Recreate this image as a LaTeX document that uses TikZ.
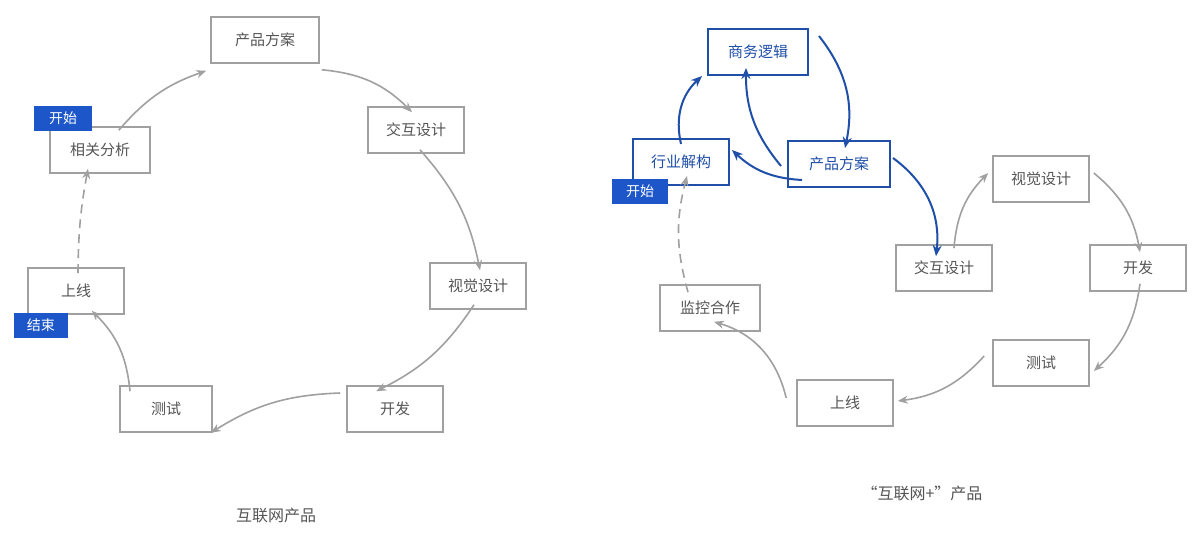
\documentclass[tikz,border=0pt]{standalone}
\usepackage{fontspec}
\setmainfont{Noto Sans CJK SC}
\usetikzlibrary{arrows.meta}
\definecolor{bx}{HTML}{A0A0A0}
\definecolor{tx}{HTML}{555555}
\definecolor{bl}{HTML}{1F4FA8}
\definecolor{tag}{HTML}{1D56C9}
\begin{document}
\begin{tikzpicture}[x=1pt,y=-1pt,
 box/.style={draw=bx,line width=1.6pt,fill=white,minimum width=96pt,minimum height=46pt,text=tx,font=\fontsize{15}{15}\selectfont},
 bbox/.style={box,draw=bl,line width=2pt,text=bl},
 tagbox/.style={fill=tag,text=white,minimum width=56pt,minimum height=25pt,inner sep=0pt,font=\fontsize{14}{14}\selectfont},
 ga/.style={draw=bx,line width=1.6pt,-{Stealth[length=10pt,width=8pt]}},
 ba/.style={draw=bl,line width=2pt,-{Stealth[length=11pt,width=9pt]}},
 captext/.style={text=tx,font=\fontsize{16}{16}\selectfont}]
\useasboundingbox (0,0) rectangle (1200,538);
% left
\node[box,minimum width=108pt] (p1) at (265,40) {产品方案};
\node[box] (j1) at (416,130) {交互设计};
\node[box] (s1) at (478,286) {视觉设计};
\node[box] (k1) at (395,409) {开发};
\node[box,minimum width=92pt] (c1) at (166,409) {测试};
\node[box] (o1) at (76,291) {上线};
\node[box,minimum width=100pt] (x1) at (100,150) {相关分析};
\node[tagbox,minimum width=58pt] (t1) at (63,118) {开始};
\node[tagbox,minimum width=54pt] (e1) at (41,325) {结束};
\draw[ga] ([xshift=-32pt,yshift=-4pt]x1.north east) to[bend left=15] ([xshift=-4pt,yshift=-7pt]p1.south west);
\draw[ga] ([xshift=2pt,yshift=-6pt]p1.south east) to[bend left=20] ([xshift=-4pt,yshift=-6pt]j1.north);
\draw[ga] ([xshift=4pt,yshift=4pt]j1.south) to[bend left=15] ([xshift=2pt,yshift=-8pt]s1.north);
\draw[ga] ([xshift=-4pt,yshift=5pt]s1.south) to[bend left=15] ([xshift=30pt,yshift=-6pt]k1.north west);
\draw[ga] ([xshift=-6pt,yshift=16pt]k1.west) to[bend right=15] ([xshift=-2pt,yshift=0pt]c1.south east);
\draw[ga] ([xshift=-36pt,yshift=-6pt]c1.north) to[bend right=20] ([xshift=-33pt,yshift=4pt]o1.south east);
\draw[ga,dashed,dash pattern=on 9pt off 6pt] ([xshift=2pt,yshift=-6pt]o1.north) to[bend left=5] ([xshift=-12pt,yshift=5pt]x1.south);
\node[captext] (cp1) at (276,515) {互联网产品};
% right
\node[bbox,minimum width=100pt] (sw) at (758,52) {商务逻辑};
\node[bbox] (hy) at (681,162) {行业解构};
\node[bbox,minimum width=102pt] (p2) at (839,164) {产品方案};
\node[tagbox] (t2) at (640,191) {开始};
\node[box] (s2) at (1041,179) {视觉设计};
\node[box] (j2) at (944,268) {交互设计};
\node[box] (k2) at (1138,268) {开发};
\node[box,minimum width=100pt] (m2) at (710,308) {监控合作};
\node[box] (c2) at (1041,363) {测试};
\node[box] (o2) at (845,403) {上线};
\draw[ba] ([yshift=-6pt]hy.north) to[bend left=30] ([xshift=-5pt,yshift=-24pt]sw.west);
\draw[ba] ([xshift=10pt,yshift=16pt]sw.east) to[bend left=25] ([xshift=6pt,yshift=-8pt]p2.north);
\draw[ba] ([xshift=-6pt,yshift=-2pt]p2.west) to[bend left=20] ([xshift=-12pt,yshift=8pt]sw.south);
\draw[ba] ([xshift=15pt,yshift=8pt]p2.south west) to[bend left=20] ([xshift=2pt,yshift=12pt]hy.east);
\draw[ba] ([xshift=2pt,yshift=6pt]p2.east) to[bend left=30] ([xshift=-8pt,yshift=-12pt]j2.north);
\draw[ga] ([xshift=10pt,yshift=-4pt]j2.north) to[bend left=20] ([xshift=-4pt,yshift=6pt]s2.west);
\draw[ga] ([xshift=4pt,yshift=6pt]s2.east) to[bend left=20] ([xshift=2pt,yshift=-8pt]k2.north);
\draw[ga] ([xshift=2pt,yshift=8pt]k2.south) to[bend left=20] ([xshift=4pt,yshift=-8pt]c2.east);
\draw[ga] ([xshift=-8pt,yshift=7pt]c2.west) to[bend left=20] ([xshift=4pt,yshift=2pt]o2.east);
\draw[ga] ([xshift=-10pt,yshift=5pt]o2.west) to[bend right=30] ([xshift=4pt,yshift=10pt]m2.south);
\draw[ga,dashed,dash pattern=on 9pt off 6pt] ([xshift=-22pt,yshift=-8pt]m2.north) to[bend left=15] ([xshift=6pt,yshift=10pt]hy.south);
\node[captext] (cp2) at (922,493) {“互联网+”产品};
\end{tikzpicture}
\end{document}
